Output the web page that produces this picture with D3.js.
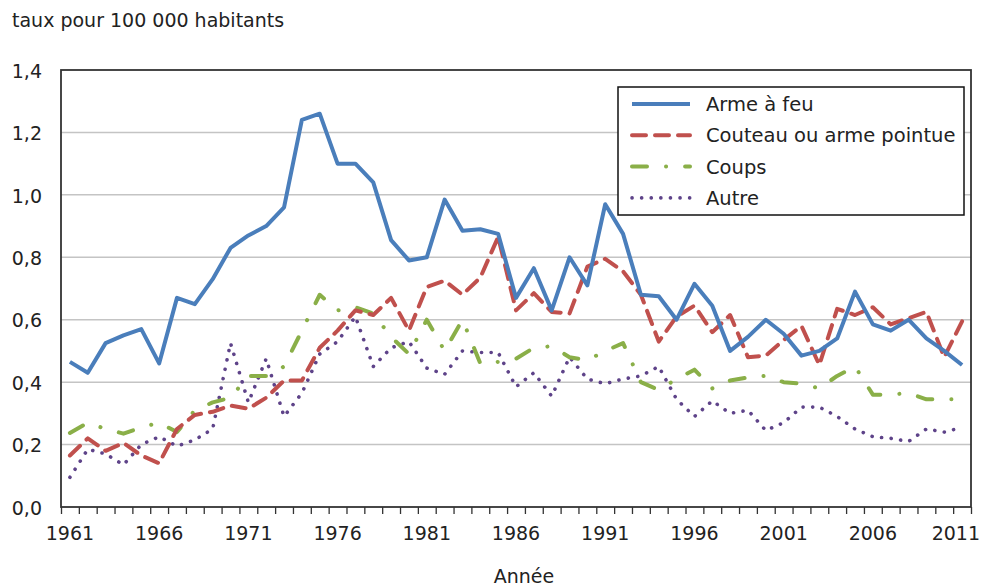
<!DOCTYPE html>
<html><head><meta charset="utf-8">
<script src="https://cdn.jsdelivr.net/npm/d3@7"></script>
<style>
body{margin:0;background:#fff;}
svg{display:block;}
text{font-family:"DejaVu Sans",Verdana,sans-serif;fill:#222;}
</style></head>
<body>
<svg id="c" width="984" height="587"></svg>
<script>
const years = d3.range(1961, 2012);
const yearLabels = [1961,1966,1971,1976,1981,1986,1991,1996,2001,2006,2011];
const yTicks = [0,0.2,0.4,0.6,0.8,1.0,1.2,1.4];
const seriesNames = ["Arme à feu","Couteau ou arme pointue","Coups","Autre"];
const armeAFeu = [0.465,0.43,0.525,0.55,0.57,0.46,0.67,0.65,0.73,0.83,
  0.87,0.90,0.96,1.24,1.26,1.10,1.10,1.04,0.855,0.79,
  0.80,0.985,0.885,0.89,0.875,0.67,0.765,0.63,0.80,0.71,
  0.97,0.875,0.68,0.675,0.60,0.715,0.645,0.50,0.545,0.60,
  0.555,0.485,0.50,0.54,0.69,0.585,0.565,0.60,0.54,0.50,0.455];
const couteau = [0.165,0.22,0.18,0.205,0.165,0.14,0.25,0.295,0.305,0.325,
  0.315,0.35,0.405,0.405,0.51,0.565,0.63,0.615,0.67,0.565,
  0.705,0.725,0.68,0.735,0.865,0.63,0.685,0.625,0.62,0.77,
  0.795,0.755,0.68,0.53,0.61,0.645,0.56,0.615,0.48,0.485,
  0.535,0.58,0.455,0.635,0.615,0.64,0.585,0.605,0.625,0.48,0.595];
const coups = [0.237,0.27,0.25,0.235,0.255,0.27,0.24,0.31,0.335,0.35,
  0.42,0.42,0.45,0.565,0.68,0.63,0.64,0.62,0.545,0.49,
  0.60,0.50,0.60,0.46,0.465,0.475,0.51,0.515,0.48,0.47,
  0.50,0.525,0.40,0.375,0.41,0.44,0.38,0.405,0.415,0.42,
  0.40,0.395,0.38,0.42,0.45,0.36,0.36,0.365,0.345,0.345,0.345];
const autre = [0.095,0.185,0.17,0.135,0.20,0.225,0.195,0.215,0.25,0.525,
  0.335,0.475,0.29,0.365,0.49,0.53,0.61,0.45,0.51,0.53,
  0.445,0.425,0.50,0.495,0.495,0.385,0.43,0.355,0.48,0.41,
  0.395,0.41,0.42,0.45,0.345,0.29,0.34,0.30,0.31,0.245,
  0.27,0.32,0.32,0.29,0.25,0.225,0.22,0.21,0.25,0.24,0.255];

const FONT = '"DejaVu Sans",Verdana,sans-serif';
const svg = d3.select("#c");
const L = 61, R = 971, T = 70, B = 507;
const x = d3.scaleBand().domain(years).range([L, R]).padding(0);
const y = d3.scaleLinear().domain([0, 1.4]).range([B, T]);
const fmt = d => d3.format(".1f")(d).replace(".", ",");

// gridlines
svg.append("g").selectAll("line").data(yTicks.filter(d => d > 0 && d < 1.4)).join("line")
  .attr("x1", L).attr("x2", R).attr("y1", d => y(d)).attr("y2", d => y(d))
  .attr("stroke", "#c4c4c4").attr("stroke-width", 1.5);

// y labels
const ya = svg.append("g").attr("transform", `translate(${L},0)`)
  .call(d3.axisLeft(y).tickValues(yTicks).tickFormat(fmt).tickSize(0).tickPadding(19));
ya.select(".domain").remove();
ya.selectAll("text").style("font-size", "19px").attr("dy", "0.38em").style("font-family", FONT).attr("fill", "#222");

// x tick marks at category boundaries
const xb = d3.scaleLinear().domain([0, years.length]).range([L, R]);
const xt = svg.append("g").attr("transform", `translate(0,${B})`)
  .call(d3.axisBottom(xb).tickValues(d3.range(0, years.length + 1)).tickFormat("").tickSize(7).tickSizeOuter(0));
xt.select(".domain").remove();
xt.selectAll("line").attr("stroke", "#333").attr("stroke-width", 1.3);

// x labels
const xa = svg.append("g").attr("transform", `translate(0,${B})`)
  .call(d3.axisBottom(x).tickValues(yearLabels).tickSize(0).tickPadding(20));
xa.select(".domain").remove();
xa.selectAll("text").style("font-size", "19px").style("font-family", FONT).attr("fill", "#222");
// keep last label inside the picture (as the original does)
xa.selectAll(".tick").filter(d => d === 2011).select("text")
  .attr("text-anchor", "end").attr("x", 980 - (x(2011) + x.bandwidth() / 2));

// frame
svg.append("rect").attr("x", L).attr("y", T).attr("width", R - L).attr("height", B - T)
  .attr("fill", "none").attr("stroke", "#333").attr("stroke-width", 1.8);

const styles = [
  {data: armeAFeu, color: "#4a7ebb", dash: null, w: 4, cap: "butt"},
  {data: couteau, color: "#c0504d", dash: "14,9", w: 4, cap: "round"},
  {data: coups, color: "#8aaf48", dash: "15,19,0.1,19", w: 4, cap: "round"},
  {data: autre, color: "#5e4389", dash: "0.1,9.5", w: 3.6, cap: "round"}
];
const line = d3.line().x((d, i) => x(years[i]) + x.bandwidth() / 2).y(d => y(d));
const order = [3, 2, 1, 0];
order.forEach(k => {
  const s = styles[k];
  svg.append("path").attr("d", line(s.data)).attr("fill", "none")
    .attr("stroke", s.color).attr("stroke-width", s.w)
    .attr("stroke-dasharray", s.dash).attr("stroke-linecap", s.cap).attr("stroke-linejoin", "round");
});

// legend
const lg = svg.append("g");
lg.append("rect").attr("x", 618).attr("y", 87).attr("width", 346).attr("height", 128)
  .attr("fill", "#fff").attr("stroke", "#111").attr("stroke-width", 1.5);
seriesNames.forEach((n, i) => {
  const s = styles[i];
  const yy = 104 + i * 31.3;
  lg.append("line").attr("x1", 632).attr("x2", 690).attr("y1", yy).attr("y2", yy)
    .attr("stroke", s.color).attr("stroke-width", s.w).attr("stroke-dasharray", s.dash).attr("stroke-linecap", s.cap);
  lg.append("text").attr("x", 706).attr("y", yy).attr("dy", "0.36em").style("font-size", "19.5px").text(n);
});

// titles
svg.append("text").attr("x", 12).attr("y", 27).style("font-size", "19px").text("taux pour 100 000 habitants");
svg.append("text").attr("x", 524).attr("y", 583).attr("text-anchor", "middle").style("font-size", "19px").text("Année");
</script>
</body></html>
